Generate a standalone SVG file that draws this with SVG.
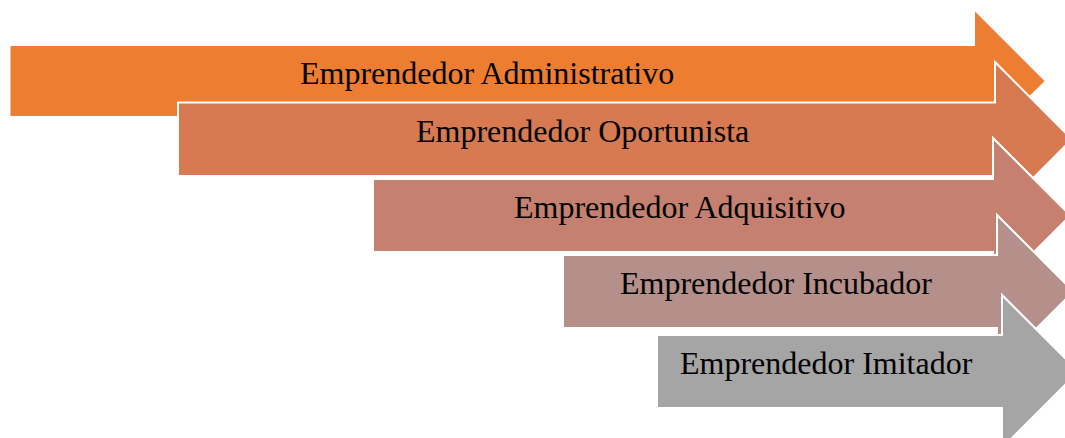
<svg xmlns="http://www.w3.org/2000/svg" width="1065" height="438" viewBox="0 0 1065 438">
<style>
.arrow{stroke:#ffffff;stroke-width:2;stroke-linejoin:miter}
.lbl{font-family:"Liberation Serif","Times New Roman",serif;font-size:32px;fill:#000000}
</style>
<rect width="1065" height="438" fill="#ffffff"/>
<g id="node1">
<polygon class="arrow" fill="#ED7D31" points="9.5,45 974,45 974,9 1046,81 974,153 974,117 9.5,117"/>
<text class="lbl" x="300" y="83.5">Emprendedor Administrativo</text>
</g>
<g id="node2">
<polygon class="arrow" fill="#D77A52" points="178,102.5 995,102.5 995,62 1072,139.25 995,216.5 995,176 178,176"/>
<text class="lbl" x="416" y="141.5">Emprendedor Oportunista</text>
</g>
<g id="node3">
<polygon class="arrow" fill="#C5806F" points="373,179 993,179 993,138 1070.5,215.5 993,293 993,252 373,252"/>
<text class="lbl" x="514" y="217.5">Emprendedor Adquisitivo</text>
</g>
<g id="node4">
<polygon class="arrow" fill="#B5908A" points="563,255 997,255 997,215 1073.5,291.5 997,368 997,328 563,328"/>
<text class="lbl" x="620" y="293.5">Emprendedor Incubador</text>
</g>
<g id="node5">
<polygon class="arrow" fill="#A5A5A5" points="657,335 1002,335 1002,295 1078.5,371.5 1002,448 1002,408 657,408"/>
<text class="lbl" x="680" y="373.5">Emprendedor Imitador</text>
</g>
<g id="connectors"></g>
</svg>
